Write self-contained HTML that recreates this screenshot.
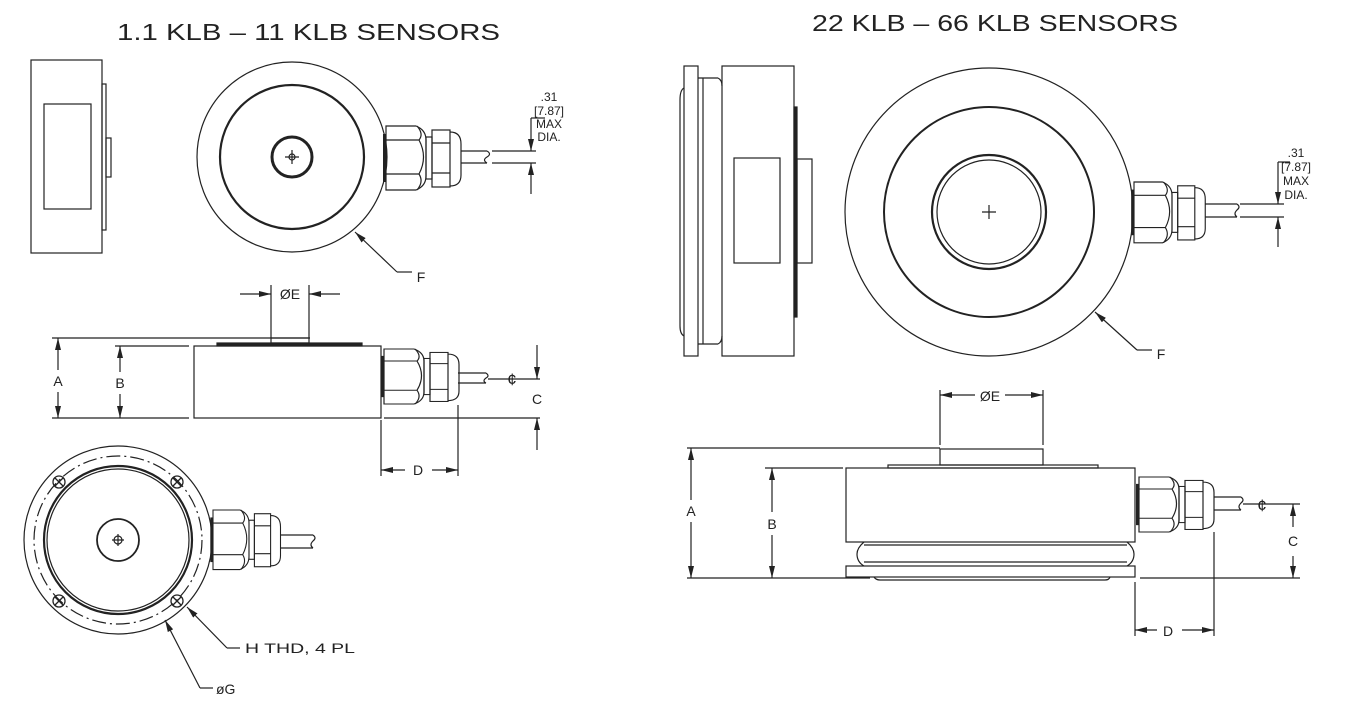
<!DOCTYPE html>
<html><head><meta charset="utf-8"><style>
html,body{margin:0;padding:0;background:#fff;}
svg{display:block;}
text{font-family:"Liberation Sans",sans-serif;fill:#222;}
</style></head><body>
<svg width="1363" height="706" viewBox="0 0 1363 706" xmlns="http://www.w3.org/2000/svg">
<defs>
<marker id="ar" viewBox="0 0 12 6" refX="12" refY="3" markerWidth="12" markerHeight="6" markerUnits="userSpaceOnUse" orient="auto">
<path d="M0,0 L12,3 L0,6 z" fill="#222"/></marker>
<g id="conn" fill="none" stroke="#222" stroke-width="1.2">
<rect x="-3" y="8" width="3" height="48" fill="#222" stroke="none"/>
<path d="M0,0 H30 Q40,4 40,14 V50 Q40,60 30,64 H0 Z"/>
<path d="M0,14 H33 M0,48 H33 M31,0 Q38,8 33,14 Q42,31 33,48 Q38,56 31,64"/>
<rect x="40" y="11" width="6" height="42"/>
<rect x="46" y="4" width="18" height="57"/>
<path d="M46,17 H64 M46,47 H64 M64,6 Q75,6 75,18 V49 Q75,60 64,60"/>
</g>
</defs>
<g fill="none" stroke="#222" stroke-width="1.2">

<!-- LEFT side view -->
<rect x="31" y="60" width="71" height="193"/>
<rect x="44" y="104" width="47" height="105"/>
<rect x="102" y="84" width="4" height="146"/>
<rect x="106" y="138" width="5" height="39"/>

<!-- LEFT top view -->
<circle cx="292" cy="157" r="95"/>
<circle cx="292" cy="157" r="72" stroke-width="2.2"/>
<circle cx="292" cy="157" r="20" stroke-width="3"/>
<circle cx="292" cy="157" r="3"/>
<path d="M285,157 H299 M292,150 V164"/>
<use href="#conn" x="386" y="126"/>
<path d="M461,151 H487 M461,163 H487 M487,151 Q492,154 487,157 Q482,160 487,163"/>
<path d="M492,151 H536 M492,163 H536"/>
<path d="M531,118 V151" marker-end="url(#ar)"/>
<path d="M531,194 V163" marker-end="url(#ar)"/>
<path d="M531,118 H545"/>
<path d="M397,272 L355,232" marker-end="url(#ar)"/>
<path d="M397,272 H412"/>

<!-- LEFT side elevation -->
<path d="M240,294 H271" marker-end="url(#ar)"/>
<path d="M340,294 H309" marker-end="url(#ar)"/>
<path d="M271,285 V338 M309,285 V338"/>
<path d="M52,338 H310 M115,346 H189 M52,418 H189"/>
<rect x="194" y="346" width="187" height="72"/>
<rect x="217" y="343" width="145" height="3" fill="#222"/>
<rect x="271" y="338" width="38" height="5"/>
<path d="M58,370 V338" marker-end="url(#ar)"/>
<path d="M58,392 V418" marker-end="url(#ar)"/>
<path d="M120,372 V346" marker-end="url(#ar)"/>
<path d="M120,394 V418" marker-end="url(#ar)"/>
<use href="#conn" transform="translate(384,349) scale(1,0.86)"/>
<path d="M458,373 H486 M458,383 H486 M486,373 Q490,376 486,378 Q482,381 486,383"/>
<path d="M488,379 H540"/>
<path d="M384,418 H540"/>
<path d="M537,345 V379" marker-end="url(#ar)"/>
<path d="M537,450 V418" marker-end="url(#ar)"/>
<path d="M381,420 V476 M458,405 V476"/>
<path d="M405,470 H381" marker-end="url(#ar)"/>
<path d="M432,470 H458" marker-end="url(#ar)"/>

<!-- LEFT bottom view -->
<circle cx="118" cy="540" r="94"/>
<circle cx="118" cy="540" r="84" stroke-dasharray="14,4,2,4"/>
<circle cx="118" cy="540" r="74" stroke-width="2.2"/>
<circle cx="118" cy="540" r="71"/>
<circle cx="118" cy="540" r="21" stroke-width="1.8"/>
<circle cx="118" cy="540" r="4"/>
<path d="M112,540 H124 M118,534 V546"/>
<g stroke-width="1.3">
<circle cx="59" cy="482" r="6"/><path d="M55,478 L63,486 M63,478 L55,486"/>
<circle cx="177" cy="482" r="6"/><path d="M173,478 L181,486 M181,478 L173,486"/>
<circle cx="59" cy="601" r="6"/><path d="M55,597 L63,605 M63,597 L55,605"/>
<circle cx="177" cy="601" r="6"/><path d="M173,597 L181,605 M181,597 L173,605"/>
</g>
<use href="#conn" transform="translate(213,510) scale(0.9,0.93)"/>
<path d="M281,535 H313 M281,548 H313 M313,535 Q317,538 313,541 Q309,545 313,548"/>
<path d="M227,648 L187,607" marker-end="url(#ar)"/>
<path d="M227,648 H240"/>
<path d="M200,688 L165,620" marker-end="url(#ar)"/>
<path d="M200,688 H213"/>

<!-- RIGHT side view -->
<rect x="684" y="66" width="14" height="290"/>
<path d="M698,78 H718 M698,344 H718 M703,78 V344 M718,78 Q722,80 722,86 M718,344 Q722,342 722,336"/>
<path d="M684,88 Q680,90 680,100 V326 Q680,334 684,336"/>
<rect x="722" y="66" width="72" height="290"/>
<rect x="734" y="158" width="46" height="105"/>
<rect x="794" y="107" width="3" height="210" fill="#222"/>
<rect x="797" y="159" width="15" height="104"/>

<!-- RIGHT top view -->
<circle cx="989" cy="212" r="144"/>
<circle cx="989" cy="212" r="105" stroke-width="2"/>
<circle cx="989" cy="212" r="57" stroke-width="2.2"/>
<circle cx="989" cy="212" r="52"/>
<path d="M982,212 H996 M989,205 V219"/>
<use href="#conn" transform="translate(1134,182) scale(0.95,0.95)"/>
<path d="M1205,204 H1237 M1205,217 H1237 M1237,204 Q1241,207 1237,210 Q1233,214 1237,217"/>
<path d="M1240,204 H1284 M1240,217 H1284"/>
<path d="M1278,162 V204" marker-end="url(#ar)"/>
<path d="M1278,247 V217" marker-end="url(#ar)"/>
<path d="M1278,162 H1290"/>
<path d="M1137,350 L1095,312" marker-end="url(#ar)"/>
<path d="M1137,350 H1152"/>

<!-- RIGHT side elevation -->
<path d="M975,395 H940" marker-end="url(#ar)"/>
<path d="M1005,395 H1043" marker-end="url(#ar)"/>
<path d="M940,390 V445 M1043,390 V445"/>
<path d="M687,448 H940 M765,468 H843 M687,578 H870"/>
<rect x="940" y="449" width="103" height="16"/>
<rect x="888" y="465" width="210" height="3"/>
<rect x="846" y="468" width="289" height="74"/>
<path d="M864,542 Q857,548 857,554 Q857,562 864,566 M1127,542 Q1134,548 1134,554 Q1134,562 1127,566 M864,545 H1127 M864,562 H1127"/>
<rect x="846" y="566" width="289" height="11"/>
<path d="M874,577 Q876,580 880,580 H1105 Q1109,580 1110,577"/>
<path d="M691,500 V448" marker-end="url(#ar)"/>
<path d="M691,522 V578" marker-end="url(#ar)"/>
<path d="M772,512 V468" marker-end="url(#ar)"/>
<path d="M772,535 V578" marker-end="url(#ar)"/>
<use href="#conn" transform="translate(1139,477) scale(1.0,0.86)"/>
<path d="M1214,497 H1241 M1214,510 H1241 M1241,497 Q1245,500 1241,503 Q1237,507 1241,510"/>
<path d="M1243,504 H1300"/>
<path d="M1140,578 H1300"/>
<path d="M1293,527 V504" marker-end="url(#ar)"/>
<path d="M1293,556 V578" marker-end="url(#ar)"/>
<path d="M1135,582 V636 M1214,532 V636"/>
<path d="M1157,630 H1135" marker-end="url(#ar)"/>
<path d="M1182,630 H1214" marker-end="url(#ar)"/>
</g>

<!-- TEXT -->
<text x="117" y="40" font-size="23" textLength="383" lengthAdjust="spacingAndGlyphs">1.1 KLB  –  11 KLB SENSORS</text>
<text x="812" y="31" font-size="23" textLength="366" lengthAdjust="spacingAndGlyphs">22 KLB  –  66 KLB SENSORS</text>
<g font-size="12" text-anchor="middle">
<text x="549" y="101">.31</text><text x="549" y="115">[7.87]</text><text x="549" y="128">MAX</text><text x="549" y="141">DIA.</text>
<text x="1296" y="157">.31</text><text x="1296" y="171">[7.87]</text><text x="1296" y="185">MAX</text><text x="1296" y="199">DIA.</text>
</g>
<g font-size="14" text-anchor="middle">
<text x="421" y="282">F</text>
<text x="1161" y="359">F</text>
<text x="290" y="299">ØE</text>
<text x="990" y="401">ØE</text>
<text x="58" y="386">A</text>
<text x="120" y="388">B</text>
<text x="537" y="404">C</text>
<text x="418" y="475">D</text>
<text x="691" y="516">A</text>
<text x="772" y="529">B</text>
<text x="1293" y="546">C</text>
<text x="1168" y="636">D</text>
<text x="512" y="385" font-size="17">¢</text>
<text x="1262" y="511" font-size="17">¢</text>
</g>
<text x="245" y="653" font-size="14" textLength="110" lengthAdjust="spacingAndGlyphs">H THD, 4 PL</text>
<text x="216" y="694" font-size="14">øG</text>
</svg>
</body></html>
